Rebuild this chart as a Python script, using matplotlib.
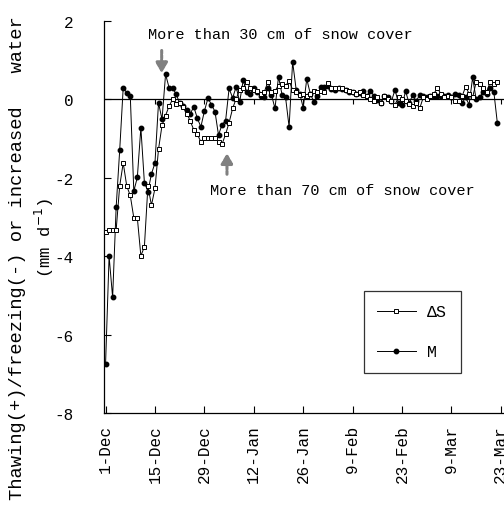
import numpy as np
import matplotlib
matplotlib.use("Agg")
import matplotlib.pyplot as plt

plt.rcParams['font.family'] = ['Liberation Mono', 'DejaVu Sans Mono']
plt.rcParams['axes.unicode_minus'] = False

# Tagesnummer ab 1. Dezember
days = np.arange(112)

# Schmelzen/Gefrieren M (mm/d)
m_vals = [
    -6.75, -4.0, -5.05, -2.75, -1.3, 0.3, 0.17, 0.1, -2.34, -1.99,
    -0.72, -2.12, -2.35, -1.9, -1.62, -0.09, -0.51, 0.64, 0.3, 0.28,
    0.14, -0.1, -0.16, -0.27, -0.36, -0.19, -0.48, -0.7, -0.3, 0.03,
    -0.13, -0.31, -0.91, -0.64, -0.55, 0.28, 0.04, 0.32, -0.06, 0.49,
    0.18, 0.15, 0.3, 0.2, 0.1, 0.07, 0.3, 0.12, -0.23, 0.58,
    0.12, 0.05, -0.7, 0.96, 0.25, 0.15, -0.21, 0.52, 0.15, -0.06,
    0.1, 0.32, 0.32, 0.33, 0.26, 0.23, 0.28, 0.26, 0.23, 0.2,
    0.18, 0.13, 0.16, 0.22, 0.08, 0.22, 0.1, -0.02, -0.1, 0.1,
    0.05, -0.05, 0.25, -0.1, -0.15, 0.21, -0.1, 0.11, -0.05, 0.12,
    0.08, 0.05, 0.08, 0.1, 0.1, 0.08, 0.1, 0.12, 0.05, 0.15,
    0.12, -0.1, 0.05, -0.13, 0.56, 0.0, 0.05, 0.2, 0.15, 0.3,
    0.2, -0.6,
]

# Speicheraenderung dS (mm/d)
ds_vals = [
    -3.39, -3.33, -3.33, -3.33, -2.21, -1.62, -2.21, -2.45, -3.02, -3.02,
    -3.99, -3.76, -2.21, -2.7, -2.27, -1.27, -0.66, -0.41, -0.17, 0.0,
    -0.12, -0.1, -0.2, -0.36, -0.55, -0.78, -0.89, -1.08, -0.98, -0.98,
    -0.98, -0.98, -1.08, -1.14, -0.89, -0.59, -0.23, 0.02, 0.24, 0.3,
    0.45, 0.3, 0.25, 0.22, 0.15, 0.2, 0.45, 0.2, 0.22, 0.35,
    0.4, 0.35, 0.47, 0.25, 0.18, 0.12, 0.15, 0.1, 0.15, 0.22,
    0.2, 0.22, 0.2, 0.41, 0.3, 0.28, 0.28, 0.3, 0.25, 0.22,
    0.2, 0.15, 0.18, 0.12, 0.1, 0.0, -0.05, 0.05, -0.08, 0.1,
    0.0, -0.05, -0.13, 0.05, 0.0, -0.05, -0.12, -0.18, -0.1, -0.23,
    0.05, 0.0, 0.1, 0.15, 0.28, 0.15, 0.05, 0.1, 0.05, -0.05,
    -0.04, 0.08, 0.32, 0.15, 0.05, 0.45, 0.4, 0.3, 0.2, 0.45,
    0.4, 0.45,
]

tick_days = [0, 14, 28, 42, 56, 70, 84, 98, 112]
tick_labels = ["1-Dec", "15-Dec", "29-Dec", "12-Jan", "26-Jan",
               "9-Feb", "23-Feb", "9-Mar", "23-Mar"]

fig = plt.figure(figsize=(5.04, 5.10), dpi=100)
ax = fig.add_axes([0.2063, 0.1882, 0.8085, 0.7686])

ax.plot(days, m_vals, color="black", lw=0.7, marker="o", ms=3.2,
        mfc="black", mec="black", label="M", zorder=3)
ax.plot(days, ds_vals, color="black", lw=0.7, marker="s", ms=3.5,
        mfc="white", mec="black", mew=0.7, label="\u0394S", zorder=4)

ax.axhline(0, color="black", lw=0.9, zorder=2)
ax.vlines(tick_days[1:], -0.12, 0, color="black", lw=0.8)

ax.set_xlim(-0.45, 115)
ax.set_ylim(-8, 2)
ax.set_yticks(range(-8, 3, 2))
ax.set_xticks(tick_days)
ax.set_xticklabels(tick_labels, rotation=90)
ax.tick_params(direction="in", length=5, width=0.8, labelsize=11.5)
ax.tick_params(axis="y", pad=22)
ax.tick_params(axis="x", pad=8)
for s in ["top", "right"]:
    ax.spines[s].set_visible(False)
for s in ["left", "bottom"]:
    ax.spines[s].set_linewidth(0.9)

# Pfeile und Texte zur Schneedecke
ax.annotate("", xy=(15.9, 0.6), xytext=(15.9, 1.32),
            arrowprops=dict(arrowstyle="-|>,head_width=0.35,head_length=0.6",
                            color="gray", lw=2.2, ls=(0, (1, 0.6))))
ax.text(12.0, 1.68, "More than 30 cm of snow cover", fontsize=11,
        va="center", ha="left")
ax.annotate("", xy=(34.4, -1.3), xytext=(34.4, -1.98),
            arrowprops=dict(arrowstyle="-|>,head_width=0.35,head_length=0.6",
                            color="gray", lw=2.2, ls=(0, (1, 0.6))))
ax.text(29.6, -2.32, "More than 70 cm of snow cover", fontsize=11,
        va="center", ha="left")

handles, labels = ax.get_legend_handles_labels()
leg = ax.legend(handles[::-1], labels[::-1], loc="upper left",
                bbox_to_anchor=(0.638, 0.311), borderaxespad=0,
                frameon=True, fancybox=False,
                edgecolor="black", fontsize=12, handlelength=2.3,
                labelspacing=1.5, borderpad=0.8, handletextpad=0.7)
leg.get_frame().set_linewidth(0.9)

fig.text(0.034, 0.494, "Thawing(+)/freezing(-) or increased   water",
         rotation=90, fontsize=13.5, ha="center", va="center")
fig.text(0.089, 0.533, "(mm d$^{-1}$)", rotation=90, fontsize=12.5,
         ha="center", va="center")

fig.savefig("out.png", dpi=100)
